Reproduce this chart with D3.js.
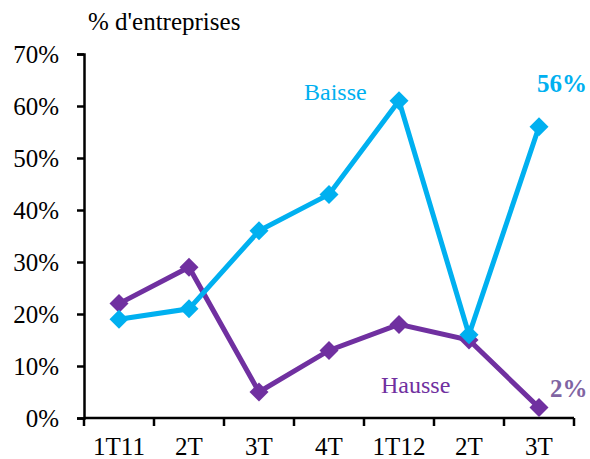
<!DOCTYPE html>
<html>
<head>
<meta charset="utf-8">
<script src="https://cdn.jsdelivr.net/npm/d3@7"></script>
<style>
  html, body { margin: 0; padding: 0; background: #fff; }
  svg text { font-family: "Liberation Serif", "Times New Roman", serif; }
</style>
</head>
<body>
<svg id="chart" width="590" height="459"></svg>
<script>
// Quarters and share of companies reporting a fall / rise
const categories = ["1T11", "2T", "3T", "4T", "1T12", "2T", "3T"];
const baisse = [19, 21, 36, 43, 61, 16, 56];
const hausse = [22, 29, 5, 13, 18, 15, 2];
const yTicks = [0, 10, 20, 30, 40, 50, 60, 70];

const svg = d3.select("#chart");
const margin = { left: 84, right: 16, top: 54, bottom: 41 };
const W = 590, H = 459;
const FS = 25;

const x = d3.scaleBand()
  .domain(d3.range(categories.length))
  .range([margin.left, W - margin.right])
  .padding(0);
const y = d3.scaleLinear().domain([0, 70]).range([H - margin.bottom, margin.top]);

// Y axis
const yAxis = svg.append("g")
  .attr("transform", `translate(${margin.left},0)`)
  .call(d3.axisLeft(y).tickValues(yTicks).tickFormat(d => d + "%").tickSizeOuter(0).tickSize(7));
yAxis.select(".domain").attr("stroke", "#000").attr("stroke-width", 2.5);
yAxis.selectAll(".tick line").attr("stroke", "#000").attr("stroke-width", 2.5);
yAxis.selectAll(".tick text").attr("font-size", FS).attr("fill", "#000").attr("x", -25);

// X axis with ticks on category boundaries
const xAxisG = svg.append("g").attr("transform", `translate(0,${y(0)})`);
xAxisG.append("line")
  .attr("x1", margin.left).attr("x2", W - margin.right)
  .attr("stroke", "#000").attr("stroke-width", 2.5);
const bounds = d3.range(categories.length + 1).map(i => margin.left + i * x.step());
xAxisG.selectAll("line.tk").data(bounds).join("line").attr("class", "tk")
  .attr("x1", d => d).attr("x2", d => d).attr("y1", 0).attr("y2", 8)
  .attr("stroke", "#000").attr("stroke-width", 2.5);
xAxisG.selectAll("text").data(categories).join("text")
  .attr("x", (d, i) => x(i) + x.bandwidth() / 2)
  .attr("y", 37)
  .attr("text-anchor", "middle")
  .attr("font-size", FS)
  .attr("fill", "#000")
  .text(d => d);

// Axis title
svg.append("text").attr("x", 88).attr("y", 30).attr("font-size", FS).attr("fill", "#000")
  .text("% d'entreprises");

const cx = i => x(i) + x.bandwidth() / 2;
const line = d3.line().x((d, i) => cx(i)).y(d => y(d));
const diamond = d3.symbol().type(d3.symbolSquare).size(180);

function drawSeries(values, color) {
  const g = svg.append("g");
  g.append("path").datum(values)
    .attr("d", line).attr("fill", "none")
    .attr("stroke", color).attr("stroke-width", 5).attr("stroke-linejoin", "miter");
  g.selectAll("path.m").data(values).join("path").attr("class", "m")
    .attr("d", diamond)
    .attr("transform", (d, i) => `translate(${cx(i)},${y(d)}) rotate(45)`)
    .attr("fill", color);
}

drawSeries(hausse, "#7030a0");
drawSeries(baisse, "#00b0f0");

// Series labels
svg.append("text").attr("x", 304).attr("y", 100).attr("font-size", FS - 1).attr("fill", "#00b0f0").text("Baisse");
svg.append("text").attr("x", 381).attr("y", 393).attr("font-size", FS - 1).attr("fill", "#7030a0").text("Hausse");

// Latest value labels
const last = categories.length - 1;
svg.append("text").attr("x", cx(last) - 2).attr("y", y(baisse[last]) - 35)
  .attr("font-size", FS).attr("font-weight", "bold").attr("fill", "#00b0f0")
  .text(baisse[last] + "%");
svg.append("text").attr("x", cx(last) + 11).attr("y", y(hausse[last]) - 11)
  .attr("font-size", FS).attr("font-weight", "bold").attr("fill", "#8064a2")
  .text(hausse[last] + "%");
</script>
</body>
</html>
